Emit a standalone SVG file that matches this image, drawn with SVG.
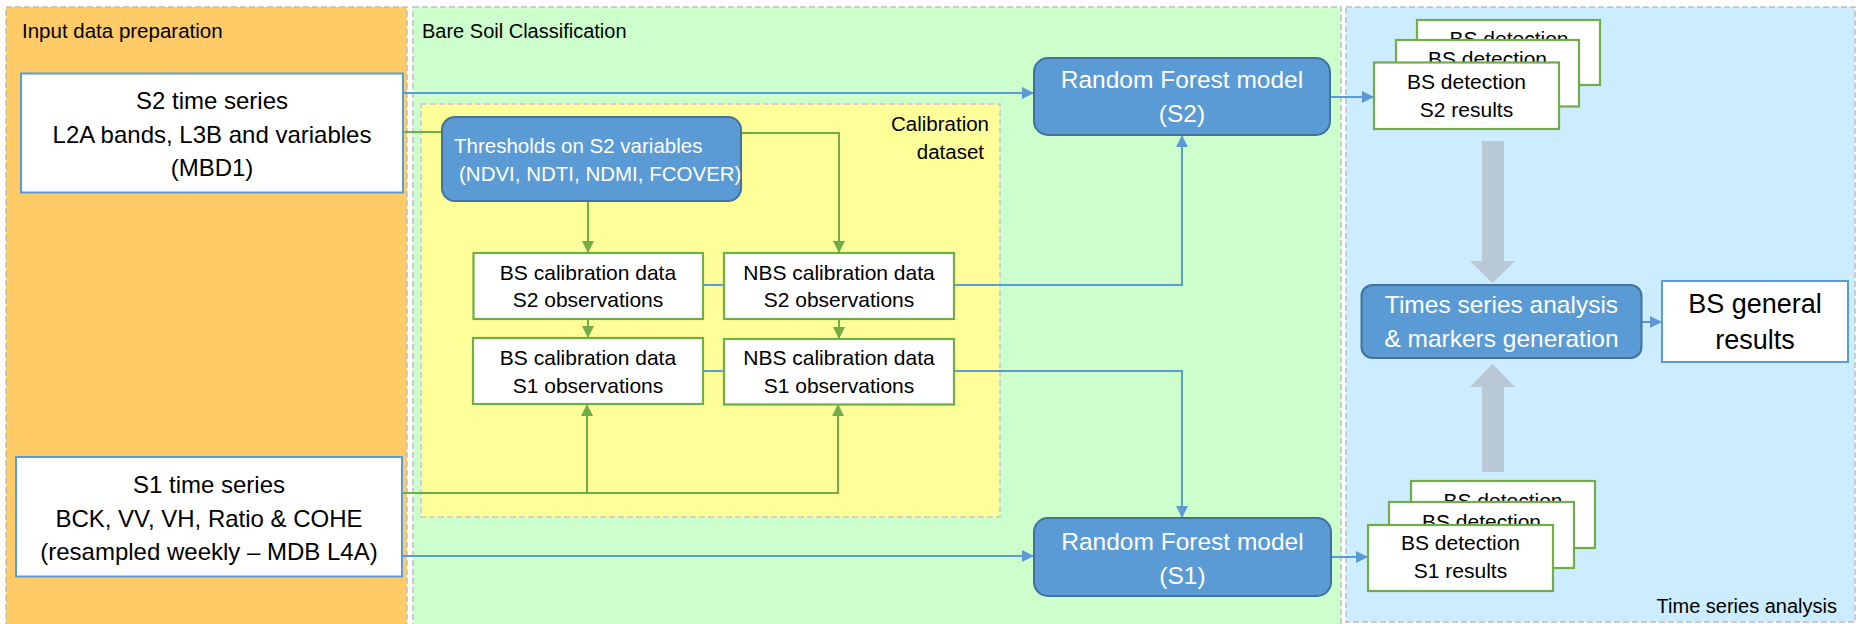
<svg xmlns="http://www.w3.org/2000/svg" width="1861" height="624" viewBox="0 0 1861 624">
<defs>
<style>
text{font-family:"Liberation Sans",Arial,sans-serif;fill:#000}
.panel{stroke:#BFBFBF;stroke-width:1.5;stroke-dasharray:6 3}
.wbox{fill:#fff;stroke:#5B9BD5;stroke-width:2}
.gbox{fill:#fff;stroke:#70AD47;stroke-width:2.2}
.bnode{fill:#5B9BD5;stroke:#41719C;stroke-width:2}
.wt{fill:#fff}
.c{text-anchor:middle}
.bl{fill:none;stroke:#5B9BD5;stroke-width:2}
.gl{fill:none;stroke:#70AD47;stroke-width:2}
.big{fill:#B8C9D5}
</style>
<marker id="ab" viewBox="0 0 12 12" refX="12" refY="6" markerWidth="12" markerHeight="12" markerUnits="userSpaceOnUse" orient="auto"><path d="M0,0 L12,6 L0,12 z" fill="#5B9BD5"/></marker>
<marker id="ag" viewBox="0 0 12 12" refX="12" refY="6" markerWidth="12" markerHeight="12" markerUnits="userSpaceOnUse" orient="auto"><path d="M0,0 L12,6 L0,12 z" fill="#70AD47"/></marker>
</defs>
<rect width="1861" height="624" fill="#fff"/>

<g id="panel-input">
<rect class="panel" x="6" y="7" width="401" height="625" fill="#FFCB66"/>
<text x="22" y="38" font-size="20.5">Input data preparation</text>
</g>
<g id="panel-bsc">
<rect class="panel" x="413" y="7" width="928" height="625" fill="#CCFFCC"/>
<text x="422" y="38" font-size="20">Bare Soil Classification</text>
</g>
<g id="panel-tsa">
<rect class="panel" x="1346" y="7" width="509" height="615" fill="#CCECFF"/>
<text x="1837" y="613" font-size="20" text-anchor="end">Time series analysis</text>
</g>
<g id="panel-calibration">
<rect x="421" y="104" width="579" height="413" fill="#FFFF99" stroke="#CCC4D6" stroke-width="1.5" stroke-dasharray="6 3"/>
<text x="989" y="130.5" font-size="20.5" text-anchor="end">Calibration</text>
<text x="984" y="159" font-size="20.5" text-anchor="end">dataset</text>
</g>

<g id="connectors">
<path class="bl" d="M403,93 H1034" marker-end="url(#ab)"/>
<path class="bl" d="M402,556 H1034" marker-end="url(#ab)"/>
<path class="bl" d="M703,285 H724"/>
<path class="bl" d="M703,371 H724"/>
<path class="bl" d="M954,285 H1182 V135" marker-end="url(#ab)"/>
<path class="bl" d="M954,371 H1182 V518" marker-end="url(#ab)"/>
<path class="bl" d="M1330,97 H1374" marker-end="url(#ab)"/>
<path class="bl" d="M1331,557 H1368" marker-end="url(#ab)"/>
<path class="bl" d="M1642,322 H1662" marker-end="url(#ab)"/>
<path class="gl" d="M403,132 H442"/>
<path class="gl" d="M741,133 H839 V253" marker-end="url(#ag)"/>
<path class="gl" d="M588,201 V253" marker-end="url(#ag)"/>
<path class="gl" d="M588,319 V338" marker-end="url(#ag)"/>
<path class="gl" d="M839,319 V339" marker-end="url(#ag)"/>
<path class="gl" d="M402,493 H838 V404" marker-end="url(#ag)"/>
<path class="gl" d="M587,493 V404" marker-end="url(#ag)"/>
<path class="big" d="M1482,141 H1504 V261 H1515 L1492.5,283 L1470,261 H1482 Z"/>
<path class="big" d="M1482,472 H1504 V387 H1515 L1492.5,364 L1470,387 H1482 Z"/>
</g>

<g id="s2-series">
<rect class="wbox" x="21" y="73.5" width="382" height="119"/>
<text class="c" x="212" y="109" font-size="24">S2 time series</text>
<text class="c" x="212" y="142.5" font-size="24">L2A bands, L3B and variables</text>
<text class="c" x="212" y="175.5" font-size="24">(MBD1)</text>
</g>
<g id="s1-series">
<rect class="wbox" x="16" y="457" width="386" height="119.5"/>
<text class="c" x="209" y="493" font-size="24">S1 time series</text>
<text class="c" x="209" y="526.5" font-size="24">BCK, VV, VH, Ratio &amp; COHE</text>
<text class="c" x="209" y="560" font-size="24">(resampled weekly – MDB L4A)</text>
</g>
<g id="thresholds">
<rect class="bnode" x="442" y="117" width="299" height="84" rx="13"/>
<text class="wt" x="454" y="153" font-size="20.5">Thresholds on S2 variables</text>
<text class="wt" x="459" y="180.5" font-size="20.5">(NDVI, NDTI, NDMI, FCOVER)</text>
</g>
<g id="bs-s2">
<rect class="gbox" x="473.5" y="253" width="229.5" height="66"/>
<text class="c" x="588" y="280" font-size="21">BS calibration data</text>
<text class="c" x="588" y="307" font-size="21">S2 observations</text>
</g>
<g id="nbs-s2">
<rect class="gbox" x="724" y="253" width="230" height="66"/>
<text class="c" x="839" y="280" font-size="21">NBS calibration data</text>
<text class="c" x="839" y="307" font-size="21">S2 observations</text>
</g>
<g id="bs-s1">
<rect class="gbox" x="473" y="338" width="230" height="66"/>
<text class="c" x="588" y="365" font-size="21">BS calibration data</text>
<text class="c" x="588" y="392.5" font-size="21">S1 observations</text>
</g>
<g id="nbs-s1">
<rect class="gbox" x="724" y="339" width="230" height="65.5"/>
<text class="c" x="839" y="365" font-size="21">NBS calibration data</text>
<text class="c" x="839" y="392.5" font-size="21">S1 observations</text>
</g>
<g id="rf-s2">
<rect class="bnode" x="1034" y="58" width="296" height="77" rx="14"/>
<text class="wt c" x="1182" y="88" font-size="24.5">Random Forest model</text>
<text class="wt c" x="1182" y="121.5" font-size="24.5">(S2)</text>
</g>
<g id="rf-s1">
<rect class="bnode" x="1034" y="518" width="297" height="78" rx="14"/>
<text class="wt c" x="1182.5" y="550" font-size="24.5">Random Forest model</text>
<text class="wt c" x="1182.5" y="583.5" font-size="24.5">(S1)</text>
</g>
<g id="bs-detection-s2">
<rect class="gbox" x="1417" y="20" width="183" height="65"/>
<text class="c" x="1509" y="46" font-size="21">BS detection</text>
<rect class="gbox" x="1396" y="40" width="183" height="66.5"/>
<text class="c" x="1487.5" y="66" font-size="21">BS detection</text>
<rect class="gbox" x="1374" y="62.5" width="185" height="66.5"/>
<text class="c" x="1466.5" y="88.5" font-size="21">BS detection</text>
<text class="c" x="1466.5" y="116.5" font-size="21">S2 results</text>
</g>
<g id="bs-detection-s1">
<rect class="gbox" x="1411" y="481" width="184" height="67"/>
<text class="c" x="1503" y="508" font-size="21">BS detection</text>
<rect class="gbox" x="1389" y="502" width="185" height="66"/>
<text class="c" x="1481.5" y="529" font-size="21">BS detection</text>
<rect class="gbox" x="1368" y="525" width="185" height="66"/>
<text class="c" x="1460.5" y="550" font-size="21">BS detection</text>
<text class="c" x="1460.5" y="578" font-size="21">S1 results</text>
</g>
<g id="ts-analysis">
<rect class="bnode" x="1361.5" y="285" width="280" height="73" rx="11"/>
<text class="wt c" x="1501.5" y="313" font-size="24.5">Times series analysis</text>
<text class="wt c" x="1501.5" y="346.5" font-size="24.5">&amp; markers generation</text>
</g>
<g id="bs-general">
<rect class="wbox" x="1662" y="281" width="186" height="81"/>
<text class="c" x="1755" y="312.5" font-size="27">BS general</text>
<text class="c" x="1755" y="349" font-size="27">results</text>
</g>
</svg>
